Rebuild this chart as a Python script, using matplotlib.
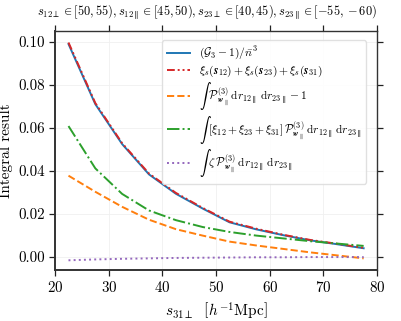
import numpy as np
import matplotlib
matplotlib.use("Agg")
import matplotlib.pyplot as plt

plt.rcParams["font.family"] = "serif"
plt.rcParams["font.serif"] = ["cmr10"]
plt.rcParams["mathtext.fontset"] = "cm"
plt.rcParams["axes.formatter.use_mathtext"] = True

# ─── Data ─────────────────────────────────────────────────────────────────────
s31_perp = [22.5, 27.5, 32.5, 37.5, 42.5, 47.5, 52.5, 57.5, 62.5, 67.5, 72.5, 77.5]

g3_minus_1 = [0.0990, 0.0710, 0.0524, 0.0383, 0.0293, 0.0224, 0.0160, 0.0127,
              0.0100, 0.0076, 0.0058, 0.0039]
xi_sum = [0.0997, 0.0715, 0.0528, 0.0387, 0.0297, 0.0227, 0.0163, 0.0130,
          0.0102, 0.0078, 0.0060, 0.0041]
int_p_minus_1 = [0.0377, 0.0302, 0.0232, 0.0172, 0.0128, 0.0098, 0.0070, 0.0052,
                 0.0036, 0.0020, 0.0006, -0.0008]
int_xi_p = [0.0608, 0.0411, 0.0292, 0.0215, 0.0170, 0.0138, 0.0115, 0.0098,
            0.0085, 0.0072, 0.0061, 0.0050]
int_zeta_p = [-0.0017, -0.0013, -0.0010, -0.0008, -0.0006, -0.0005, -0.0004,
              -0.0003, -0.0003, -0.0002, -0.0002, -0.0002]

labels = [
    r"$(\mathcal{G}_3-1)/\bar{n}^3$",
    r"$\xi_s(\boldsymbol{s}_{12})+\xi_s(\boldsymbol{s}_{23})+\xi_s(\boldsymbol{s}_{31})$",
    r"$\int\ \mathcal{P}^{(3)}_{\boldsymbol{w}_\parallel}\,\mathrm{d}r_{12\parallel}\,\mathrm{d}r_{23\parallel}-1$",
    r"$\int\ [\xi_{12}+\xi_{23}+\xi_{31}]\,\mathcal{P}^{(3)}_{\boldsymbol{w}_\parallel}\,\mathrm{d}r_{12\parallel}\,\mathrm{d}r_{23\parallel}$",
    r"$\int\ \zeta\,\mathcal{P}^{(3)}_{\boldsymbol{w}_\parallel}\,\mathrm{d}r_{12\parallel}\,\mathrm{d}r_{23\parallel}$",
]

# ─── Figure ──────────────────────────────────────────────────────────────────
fig = plt.figure(figsize=(4.02, 3.21), dpi=100)
ax = fig.add_axes([0.137, 0.159, 0.801, 0.744])

lw = 1.4
ax.plot(s31_perp, g3_minus_1, color="#1f77b4", ls="-", lw=lw, label=labels[0])
ax.plot(s31_perp, xi_sum, color="#d62728", lw=lw, dashes=(4, 1.5, 1, 1.5, 1, 1.5),
        label=labels[1])
ax.plot(s31_perp, int_p_minus_1, color="#ff7f0e", lw=lw, ls="--", label=labels[2])
ax.plot(s31_perp, int_xi_p, color="#2ca02c", lw=lw, ls="-.", label=labels[3])
ax.plot(s31_perp, int_zeta_p, color="#9467bd", lw=lw, ls=":", label=labels[4])

ax.set_xlim(20, 80)
ax.set_ylim(-0.0062, 0.105)
ax.set_xticks([20, 30, 40, 50, 60, 70, 80])
ax.set_yticks([0.00, 0.02, 0.04, 0.06, 0.08, 0.10])
ax.yaxis.set_major_formatter(matplotlib.ticker.FormatStrFormatter("%.2f"))

ax.grid(True, color="#f0f0f0", lw=0.6)
ax.set_axisbelow(True)
for side, sp in ax.spines.items():
    sp.set_color("#333333")
    sp.set_linewidth(1.4 if side in ("left", "bottom") else 1.0)
ax.tick_params(direction="out", length=4, width=0.9, top=True, right=True,
               labeltop=False, labelright=False, labelsize=10.8, color="#222222")

ax.set_xlabel(r"$s_{31\perp}\ \ \left[h^{-1}\mathrm{Mpc}\right]$", fontsize=11)
ax.set_ylabel("Integral result", fontsize=11)
ax.yaxis.set_label_coords(-0.13, 0.5)

# title: fit it to the width it has in the reference (~340 px, from x=37 to 377)
title = ax.text(0.5 * (37 + 377) / 402, 1 - 13 / 321,
                r"$s_{12\perp}\in[50,55), s_{12\parallel}\in[45,50), "
                r"s_{23\perp}\in[40,45), s_{23\parallel}\in[-55,-60)$",
                transform=fig.transFigure, ha="center", va="center", fontsize=9)
fig.canvas.draw()
w = title.get_window_extent().width
title.set_fontsize(9 * 340 / w)

ax.legend(loc="upper right", fontsize=8.3, frameon=True, fancybox=True,
          framealpha=0.9, edgecolor="#dddddd", handlelength=2.0,
          labelspacing=0.12, borderpad=0.4, bbox_to_anchor=(0.985, 0.985))

fig.savefig("out.png", dpi=100)
